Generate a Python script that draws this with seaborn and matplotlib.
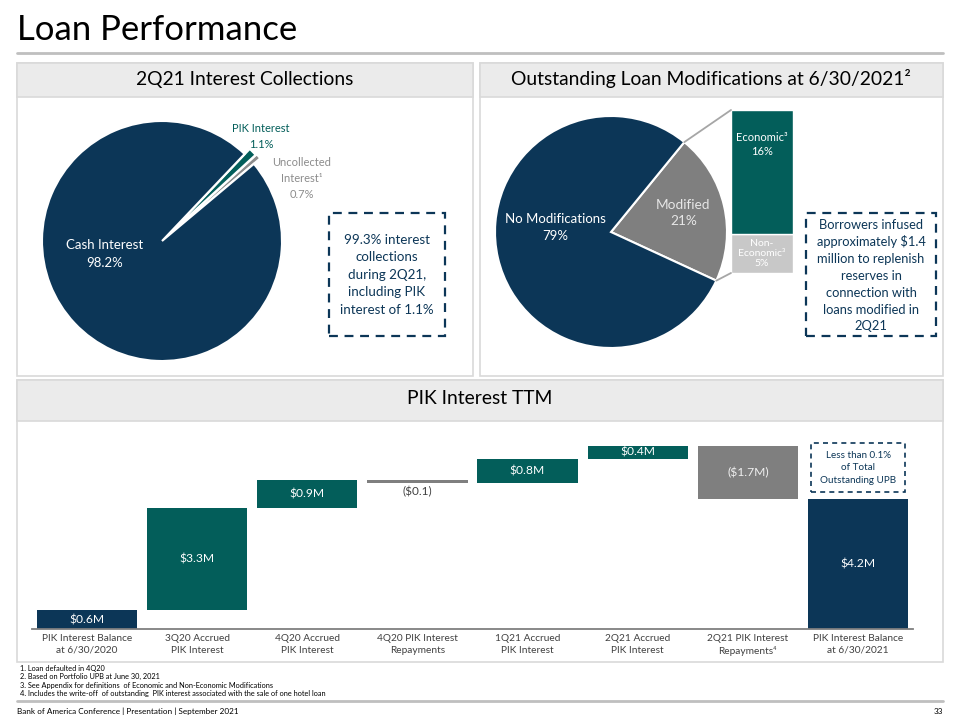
import numpy as np
import matplotlib
matplotlib.use("Agg")
import matplotlib.pyplot as plt
from matplotlib.patches import Rectangle, ConnectionPatch
import seaborn as sns

# ---------------- data ----------------
pie1_labels = ["Uncollected Interest", "PIK Interest", "Cash Interest"]
pie1_values = [0.7, 1.1, 98.2]

pie2_labels = ["Modified", "No Modifications"]
pie2_values = [21, 79]

mod_labels = ["Non-Economic", "Economic"]
mod_values = [5, 16]

wf_categories = ["PIK Interest Balance\nat 6/30/2020", "3Q20 Accrued\nPIK Interest",
                 "4Q20 Accrued\nPIK Interest", "4Q20 PIK Interest\nRepayments",
                 "1Q21 Accrued\nPIK Interest", "2Q21 Accrued\nPIK Interest",
                 "2Q21 PIK Interest\nRepayments\u2074", "PIK Interest Balance\nat 6/30/2021"]
wf_values = [0.6, 3.3, 0.9, -0.1, 0.8, 0.4, -1.7, 4.2]
wf_kinds = ["total", "delta", "delta", "delta", "delta", "delta", "delta", "total"]
wf_labels = ["$0.6M", "$3.3M", "$0.9M", "($0.1)", "$0.8M", "$0.4M", "($1.7M)", "$4.2M"]

# ---------------- style ----------------
NAVY = "#0C3657"
TEAL = "#035E5A"
GRAY = "#7F7F7F"
LGRAY = "#C8C8C8"
UNCOL = "#8C8C8C"
HDR = "#EBEBEB"
BORDER = "#D9D9D9"
TXT = "#404040"

sns.set_theme(style="white")
plt.rcParams["font.family"] = ["Lato", "DejaVu Sans"]

W, H = 960, 720
fig = plt.figure(figsize=(9.6, 7.2), dpi=100)
fig.patch.set_facecolor("white")


def fx(x):
    return x / W


def fy(y):
    return 1 - y / H


def frect(x0, y0, x1, y1, **kw):
    r = Rectangle((fx(x0), fy(y1)), (x1 - x0) / W, (y1 - y0) / H,
                  transform=fig.transFigure, **kw)
    fig.add_artist(r)
    return r


def fline(x0, y0, x1, y1, **kw):
    fig.add_artist(plt.Line2D([fx(x0), fx(x1)], [fy(y0), fy(y1)],
                              transform=fig.transFigure, **kw))


def ftext(x, y, s, **kw):
    kw.setdefault("ha", "center")
    kw.setdefault("va", "center")
    fig.text(fx(x), fy(y), s, **kw)


def add_axes_px(x0, y0, x1, y1):
    return fig.add_axes([fx(x0), fy(y1), (x1 - x0) / W, (y1 - y0) / H])


# ---------------- slide frame ----------------
ftext(17, 30, "Loan Performance", ha="left", fontsize=25, color="black")
fline(17, 53, 943, 53, color="#BFBFBF", lw=2)

# panels
for (x0, y0, x1, y1, hb) in [(17, 63, 473, 376, 97), (480, 63, 943, 376, 97),
                             (17, 380, 943, 662, 421)]:
    frect(x0, y0, x1, y1, facecolor="white", edgecolor=BORDER, lw=1.2, zorder=0)
    frect(x0, y0, x1, hb, facecolor=HDR, edgecolor=BORDER, lw=1.2, zorder=0)

ftext(245, 79, "2Q21 Interest Collections", fontsize=13.9, color="black")
ftext(711, 79, "Outstanding Loan Modifications at 6/30/2021\u00b2", fontsize=13.9, color="black")
ftext(480, 399, "PIK Interest TTM", fontsize=13.9, color="black")

# ---------------- left pie ----------------
cx, cy, r = 162, 241, 120
s = 1.35
ax1 = add_axes_px(cx - r * s, cy - r * s, cx + r * s, cy + r * s)
ax1.pie(pie1_values, colors=[UNCOL, TEAL, NAVY], startangle=40, counterclock=True,
        explode=[0.07, 0.06, 0.0],
        wedgeprops=dict(edgecolor="white", linewidth=1.5))
ax1.set_xlim(-s, s)
ax1.set_ylim(-s, s)
ax1.set_aspect("equal")
ax1.axis("off")

ftext(105, 245, "Cash Interest", fontsize=9.5, color="white")
ftext(105, 263, "98.2%", fontsize=9.5, color="white")
ftext(261, 128, "PIK Interest", fontsize=8, color=TEAL)
ftext(261, 144, "1.1%", fontsize=8, color=TEAL)
ftext(302, 163, "Uncollected", fontsize=8, color=UNCOL)
ftext(302, 179, "Interest\u00b9", fontsize=8, color=UNCOL)
ftext(302, 194, "0.7%", fontsize=8, color=UNCOL)

# dashed box left
frect(329, 213, 445, 336, facecolor="none", edgecolor=NAVY, lw=1.6,
      linestyle=(0, (4, 3)))
for i, line in enumerate(["99.3% interest", "collections", "during 2Q21,",
                          "including PIK", "interest of 1.1%"]):
    ftext(387, 240 + i * 17.5, line, fontsize=9.6, color=NAVY)

# ---------------- right pie ----------------
cx2, cy2, r2 = 611, 232, 116
ax2 = add_axes_px(cx2 - r2 * s, cy2 - r2 * s, cx2 + r2 * s, cy2 + r2 * s)
start2 = -(pie2_values[0] / 100 * 360) / 2 + 13
wedges2, _ = ax2.pie(pie2_values, colors=[GRAY, NAVY], startangle=start2,
                     counterclock=True,
                     wedgeprops=dict(edgecolor="white", linewidth=1.5))
ax2.set_xlim(-s, s)
ax2.set_ylim(-s, s)
ax2.set_aspect("equal")
ax2.axis("off")

mw = wedges2[0]
mid = np.deg2rad((mw.theta1 + mw.theta2) / 2)
ax2.text(0.64 * np.cos(mid), 0.64 * np.sin(mid) + 0.02, "Modified\n21%", ha="center",
         va="center", fontsize=9.8, color="#E6E6E6", linespacing=1.4)
ax2.text(-0.48, 0.04, "No Modifications\n79%", ha="center", va="center",
         fontsize=9.5, color="white", linespacing=1.5)

# stacked bar of modifications
axb = add_axes_px(731, 110, 793, 273)
sns.barplot(x=["Modified"], y=[mod_values[0]], color=LGRAY, width=1.0, ax=axb,
            edgecolor="white", linewidth=1, saturation=1)
sns.barplot(x=["Modified"], y=[mod_values[1]], bottom=[mod_values[0]], color=TEAL,
            width=1.0, ax=axb, edgecolor="white", linewidth=1, saturation=1)
total_mod = sum(mod_values)
axb.set_xlim(-0.5, 0.5)
axb.set_ylim(0, total_mod)
axb.axis("off")
axb.text(0, mod_values[0] + mod_values[1] * 0.72, "Economic\u00b3\n16%", ha="center",
         va="center", fontsize=8, color="white", linespacing=1.3)
axb.text(0, mod_values[0] / 2, "Non-\nEconomic\u00b3\n5%", ha="center", va="center",
         fontsize=7.5, color="white", linespacing=1.1)

t1, t2 = np.deg2rad(mw.theta1), np.deg2rad(mw.theta2)
for (ya, th) in [(total_mod, t2), (0, t1)]:
    con = ConnectionPatch(xyA=(-0.5, ya), coordsA=axb.transData,
                          xyB=(np.cos(th), np.sin(th)), coordsB=ax2.transData,
                          color="#A6A6A6", lw=1.3)
    fig.add_artist(con)

# dashed box right
frect(806, 213, 936, 336, facecolor="none", edgecolor=NAVY, lw=1.6,
      linestyle=(0, (4, 3)))
for i, line in enumerate(["Borrowers infused", "approximately $1.4",
                          "million to replenish", "reserves in",
                          "connection with", "loans modified in", "2Q21"]):
    ftext(871, 225 + i * 16.9, line, fontsize=9.3, color=NAVY)

# ---------------- waterfall ----------------
vals = np.array(wf_values)
bottoms, heights = [], []
cum = 0.0
for v, k in zip(vals, wf_kinds):
    if k == "total":
        bottoms.append(0.0)
        heights.append(v)
        cum = v
    else:
        new = cum + v
        bottoms.append(min(cum, new))
        heights.append(abs(v))
        cum = new
bottoms = np.array(bottoms)
heights = np.array(heights)

colors = []
for v, k in zip(vals, wf_kinds):
    if k == "total":
        colors.append(NAVY)
    elif v > 0:
        colors.append(TEAL)
    else:
        colors.append(GRAY)

axw = add_axes_px(32, 440, 913, 629)
sns.barplot(x=wf_categories, y=heights, bottom=bottoms, color=TEAL, width=0.91,
            ax=axw, linewidth=0, saturation=1)
for p, c in zip(axw.patches, colors):
    p.set_facecolor(c)
axw.set_xlim(-0.5, len(vals) - 0.5)
axw.set_ylim(0, 6.1)
axw.set_yticks([])
axw.set_ylabel("")
for sp in ["top", "left", "right"]:
    axw.spines[sp].set_visible(False)
axw.spines["bottom"].set_color(GRAY)
axw.spines["bottom"].set_linewidth(1.3)
axw.tick_params(axis="x", length=0, pad=3.5, labelsize=7.3, labelcolor=TXT)
for lab in axw.get_xticklabels():
    lab.set_linespacing(1.4)
axw.patch.set_alpha(0)

for i, (b, h, lab) in enumerate(zip(bottoms, heights, wf_labels)):
    if h < 0.2:
        axw.annotate(lab, xy=(i, b), xytext=(0, -2), textcoords="offset points",
                     ha="center", va="top", fontsize=8.5, color=TXT)
    else:
        col = "#F0F0F0" if colors[i] == GRAY else "white"
        axw.text(i, b + h / 2, lab, ha="center", va="center", fontsize=8.7, color=col)

# bottom dashed box
frect(811, 443, 905, 492, facecolor="none", edgecolor=NAVY, lw=1.2,
      linestyle=(0, (3, 2.5)))
for i, line in enumerate(["Less than 0.1%", "of Total", "Outstanding UPB"]):
    ftext(858, 455 + i * 12.8, line, fontsize=7.1, color=NAVY)

# ---------------- footnotes / footer ----------------
notes = ["1. Loan defaulted in 4Q20",
         "2. Based on Portfolio UPB at June 30, 2021",
         "3. See Appendix for definitions  of Economic and Non-Economic Modifications",
         "4. Includes the write-off  of outstanding  PIK interest associated with the sale of one hotel loan"]
for i, n in enumerate(notes):
    ftext(20, 668 + i * 8.6, n, ha="left", fontsize=5.3, color="black")
fline(17, 701, 943, 701, color="#BFBFBF", lw=2)
ftext(17, 711, "Bank of America Conference | Presentation | September 2021", ha="left",
      fontsize=5.9, color="black")
ftext(943, 711, "33", ha="right", fontsize=5.9, color="black")

fig.savefig("out.png", dpi=100)
